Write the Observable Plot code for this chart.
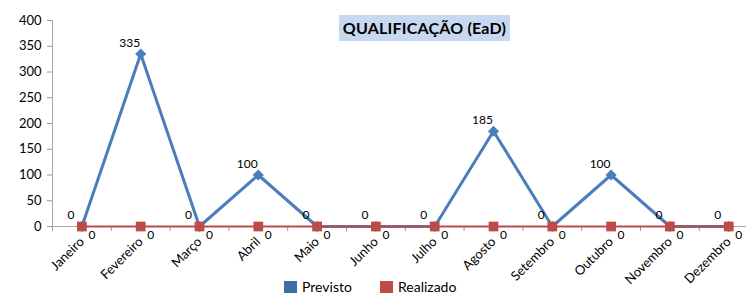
<!DOCTYPE html>
<html><head><meta charset="utf-8">
<script src="https://cdn.jsdelivr.net/npm/d3@7"></script>
<script src="https://cdn.jsdelivr.net/npm/@observablehq/plot@0.6"></script>
<style>
body{margin:0;background:#fff;font-family:Lato,"Open Sans",sans-serif;}
#wrap{position:relative;width:746px;height:295px;overflow:hidden;}
#chart{position:absolute;left:0;top:0;}
#title{position:absolute;left:339px;top:15px;width:171px;height:26px;background:#c6d9f1;font-weight:bold;font-size:16px;line-height:26px;text-align:center;color:#000;letter-spacing:0.2px;}
#legend{position:absolute;left:0;top:279px;width:746px;height:15px;font-size:14px;color:#000;}
.sw{display:inline-block;width:13px;height:12px;vertical-align:-1px;margin-right:5px;}
.it{position:absolute;top:0;line-height:15px;}
</style></head>
<body><div id="wrap"><div id="chart"></div><div id="title">QUALIFICAÇÃO (EaD)</div>
<div id="legend"><span class="it" style="left:284px"><span class="sw" style="background:#3f6ea5"></span>Previsto</span><span class="it" style="left:380px"><span class="sw" style="background:#be4b48"></span>Realizado</span></div></div>
<script>
const months = ["Janeiro","Fevereiro","Março","Abril","Maio","Junho","Julho","Agosto","Setembro","Outubro","Novembro","Dezembro"];
const previsto = [0,335,0,100,0,0,0,185,0,100,0,0];
const realizado = [0,0,0,0,0,0,0,0,0,0,0,0];
const yTicks = [0,50,100,150,200,250,300,350,400];

const P = months.map((m,i)=>({m, v:previsto[i]}));
const R = months.map((m,i)=>({m, v:realizado[i]}));
const bw = 58.8;

const chart = Plot.plot({
  width:746, height:295,
  marginLeft:52, marginTop:20, marginBottom:69, marginRight:0,
  style:{fontFamily:"Lato, 'Open Sans', sans-serif", fontSize:"12px", color:"#000", background:"transparent"},
  x:{type:"band", domain:months, range:[52, 52+12*bw], padding:0, round:false},
  y:{domain:[0,400]},
  marks:[
    Plot.axisY({ticks:yTicks, tickSize:5, stroke:"#999", fill:"#000", fontSize:13, tickPadding:6, label:null}),
    Plot.frame({anchor:"left", stroke:"#aaa"}),
    Plot.ruleY([0],{stroke:"#aaa"}),
    Plot.axisX({tickSize:5, tickFormat:()=>"", dx:-bw/2, stroke:"#999", label:null}),
    Plot.axisX({tickSize:0, tickRotate:-45, tickPadding:13, fontSize:13, fill:"#000", label:null}),
    Plot.line(P,{x:"m", y:"v", stroke:"#4a7ebb", strokeWidth:3}),
    Plot.dot(P,{x:"m", y:"v", symbol:"diamond2", fill:"#4a7ebb", r:5}),
    Plot.line(R,{x:"m", y:"v", stroke:"#be4b48", strokeWidth:2}),
    Plot.dot(R,{x:"m", y:"v", symbol:"square", fill:"#be4b48", r:5.5}),
    Plot.text(P,{x:"m", y:"v", text:d=>String(d.v), dx:-11, dy:-11, fontSize:12, fill:"#000"}),
    Plot.text(R,{x:"m", y:"v", text:d=>String(d.v), dx:10, dy:9, fontSize:12, fill:"#000"})
  ]
});
document.getElementById("chart").appendChild(chart);
</script></body></html>
